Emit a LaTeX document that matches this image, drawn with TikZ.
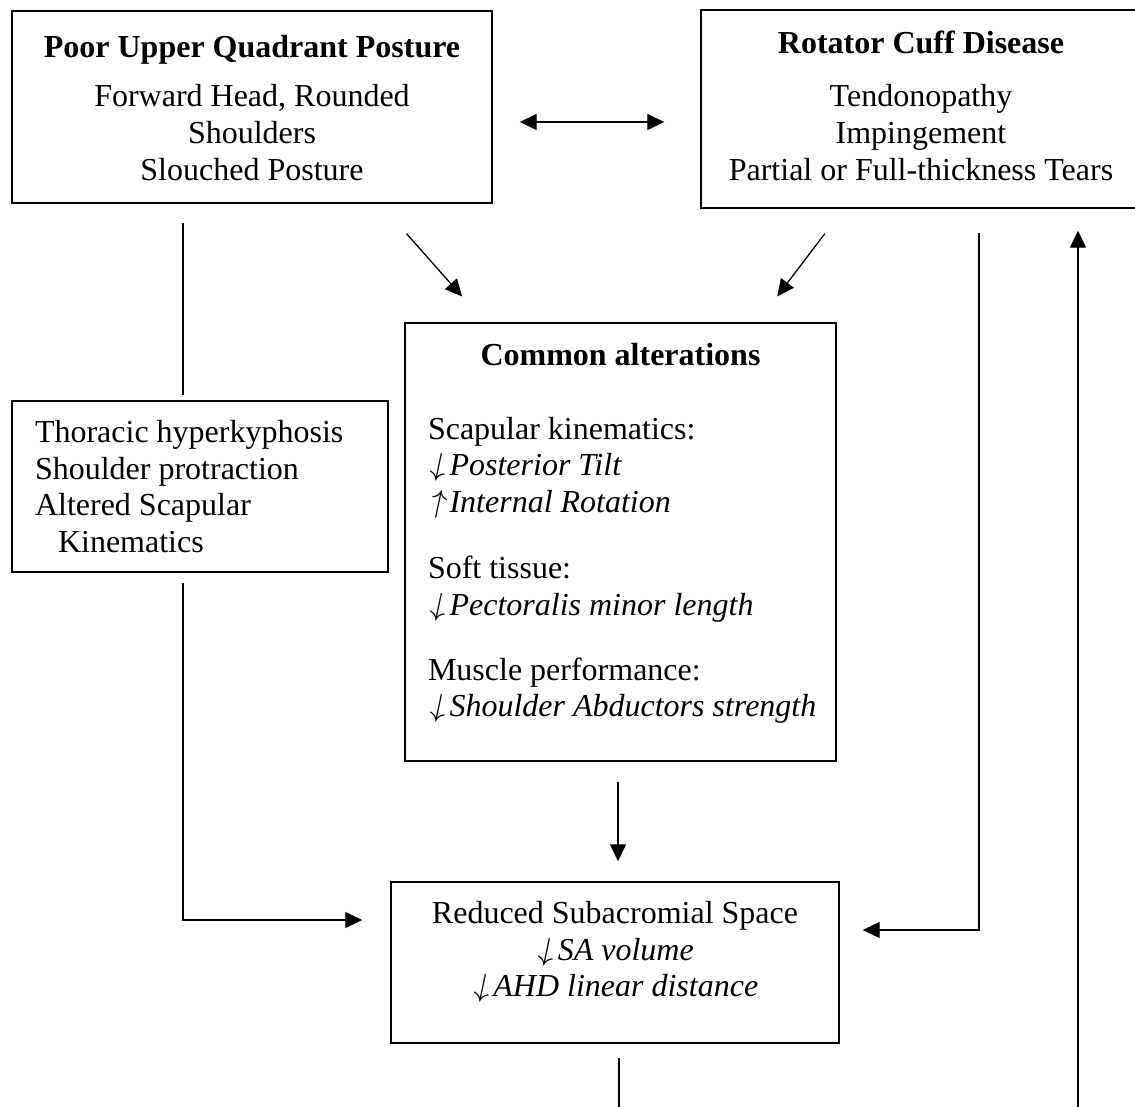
\RequirePackage{fix-cm}
\documentclass[tikz,border=0pt]{standalone}
\usepackage{fontspec}
\setmainfont{Liberation Serif}
\usetikzlibrary{arrows.meta}

\newcommand{\dnarrow}{\rotatebox[origin=c]{-12}{$\downarrow$}}
\newcommand{\uparrowit}{\rotatebox[origin=c]{-12}{$\uparrow$}}

\tikzset{
  box/.style={draw, line width=1.4pt, inner sep=0pt, font=\fontsize{32}{36.7}\selectfont,
    execute at begin node={\spaceskip=0pt\xspaceskip=0pt}},
  link/.style={line width=1.3pt},
}

\begin{document}
\begin{tikzpicture}[line cap=butt,line join=miter,>={Triangle[length=17pt,width=16pt]},x=1pt,y=-1pt]
\useasboundingbox (0,0) rectangle (1135,1106);
%boxes
\node[box, align=center, minimum width=480, minimum height=192] (posture) at (252,107)
  {\rule{0pt}{24pt}\textbf{Poor Upper Quadrant Posture}\\[13pt]Forward Head, Rounded\\Shoulders\\Slouched Posture};
% right side of this box runs off the page
\node[box, draw=none, align=center, minimum width=438, minimum height=196] (rcd) at (921,109)
  {\textbf{Rotator Cuff Disease}\\[17pt]Tendonopathy\\Impingement\\Partial or Full-thickness Tears\rule[-7pt]{0pt}{7pt}};
\draw[line width=1.7pt] (rcd.north east) -| (rcd.south west) -- (rcd.south east);
\node[box, align=left, text width=330, minimum width=376, minimum height=171] (thoracic) at (200,486.5)
  {Thoracic hyperkyphosis\\Shoulder protraction\\Altered Scapular\\\hspace*{23pt}Kinematics};
\node[box, align=left, text width=385, minimum width=431, minimum height=438] (alter) at (620.5,542)
  {\makebox[\hsize]{\textbf{Common alterations}}\\[37pt]
   Scapular kinematics:\\
   \dnarrow\textit{Posterior Tilt}\\
   \uparrowit\textit{Internal Rotation}\\[29.5pt]
   Soft tissue:\\
   \dnarrow\textit{Pectoralis minor length}\\[28pt]
   Muscle performance:\\
   \mbox{\dnarrow\textit{Shoulder Abductors strength}}\rule[-24pt]{0pt}{24pt}};
\node[box, align=center, minimum width=448, minimum height=161] (space) at (615,962.5)
  {Reduced Subacromial Space\\\dnarrow\textit{SA volume}\\\dnarrow\textit{AHD linear distance}\rule[-27pt]{0pt}{27pt}};
%free ends
\coordinate (bottomend) at (619,1110);
\coordinate (returnend) at (1078,1110);
%connectors
\draw[link, <->, shorten <=27pt, shorten >=37pt] (posture.east |- 0,122) -- (rcd.west |- 0,122);
\draw[link, shorten <=19pt, shorten >=5pt] (posture.south -| 183,0) -- (thoracic.north -| 183,0);
\draw[link, ->, shorten <=40pt, shorten >=34.5pt] (posture.south -| 380,0) -- (alter.north -| 485,0);
\draw[link, ->, shorten <=32.5pt, shorten >=32.5pt] (rcd.south -| 844.5,0) -- (alter.north -| 757.5,0);
\draw[link, ->, shorten <=20pt, shorten >=20pt] (alter.south -| 618,0) -- (space.north -| 618,0);
\draw[link, ->, shorten <=10pt, shorten >=28pt] (thoracic.south -| 183,0) |- (space.west |- 0,920);
\draw[link, ->, shorten <=25pt, shorten >=23pt] (rcd.south -| 979,0) |- (space.east |- 0,930);
\draw[link, shorten <=14pt] (space.south -| bottomend) -- (bottomend);
\draw[link, ->, shorten >=23pt] (returnend) -- (rcd.south -| returnend);
\end{tikzpicture}
\end{document}
